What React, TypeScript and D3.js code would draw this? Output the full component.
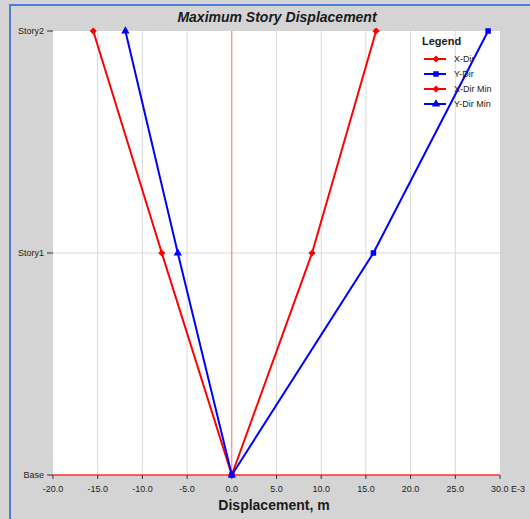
import { useRef, useEffect } from "react";
import { select, scaleLinear, scalePoint, line, symbol, symbolSquare, symbolTriangle, range } from "d3";

const W = 530;
const H = 519;
const plot = { left: 53, right: 500, top: 31, bottom: 475 };

const stories = ["Base", "Story1", "Story2"];
const xDir = [0, 8.98, 16.14];
const yDir = [0, 15.84, 28.67];
const xDirMin = [0, -7.83, -15.5];
const yDirMin = [0, -6.04, -11.9];
const xTicks = range(-20, 30.1, 5);

// diamond = square turned 45deg
const series = [
  { name: "X-Dir", values: xDir, color: "#ff0000", shape: symbolSquare, size: 26, rot: 45 },
  { name: "Y-Dir", values: yDir, color: "#0000ff", shape: symbolSquare, size: 30, rot: 0 },
  { name: "X-Dir Min", values: xDirMin, color: "#ff0000", shape: symbolSquare, size: 26, rot: 45 },
  { name: "Y-Dir Min", values: yDirMin, color: "#0000ff", shape: symbolTriangle, size: 30, rot: 0 },
];

const FONT = "'Liberation Sans', Arial, sans-serif";

export default function App() {
  const svgRef = useRef<SVGSVGElement>(null);

  useEffect(() => {
    const svg = select(svgRef.current);
    svg.selectAll("*").remove();

    const x = scaleLinear().domain([-20, 30]).range([plot.left, plot.right]);
    const y = scalePoint().domain(stories).range([plot.bottom, plot.top]);

    // background panel
    svg.append("rect").attr("width", W).attr("height", H).attr("fill", "#d4d4d4");
    svg.append("rect").attr("x", 9).attr("y", 4).attr("width", W).attr("height", 2).attr("fill", "#4a7ed6");
    svg.append("rect").attr("x", 9).attr("y", 4).attr("width", 2).attr("height", H).attr("fill", "#4a7ed6");

    // plot area
    svg.append("rect")
      .attr("x", plot.left).attr("y", plot.top)
      .attr("width", plot.right - plot.left).attr("height", plot.bottom - plot.top)
      .attr("fill", "#ffffff");

    // title
    svg.append("text")
      .attr("x", 277).attr("y", 22)
      .attr("text-anchor", "middle")
      .style("font", `italic bold 14px ${FONT}`)
      .attr("fill", "#1a1a1a")
      .text("Maximum Story Displacement");

    // grid
    svg.append("g").selectAll("line")
      .data(xTicks.filter(t => t !== 0 && t !== -20 && t !== 30))
      .join("line")
      .attr("x1", d => x(d)).attr("x2", d => x(d))
      .attr("y1", plot.top).attr("y2", plot.bottom)
      .attr("stroke", "#d9d9d9").attr("stroke-width", 1);
    svg.append("line")
      .attr("x1", plot.left).attr("x2", plot.right)
      .attr("y1", y("Story1")!).attr("y2", y("Story1")!)
      .attr("stroke", "#d9d9d9").attr("stroke-width", 1);

    // zero line and base line
    svg.append("line")
      .attr("x1", x(0)).attr("x2", x(0))
      .attr("y1", plot.top).attr("y2", plot.bottom)
      .attr("stroke", "#ff6b6b").attr("stroke-width", 1);
    svg.append("line")
      .attr("x1", plot.left).attr("x2", plot.right)
      .attr("y1", y("Base")!).attr("y2", y("Base")!)
      .attr("stroke", "#ff3030").attr("stroke-width", 1.5);

    // x ticks
    const xa = svg.append("g");
    xa.selectAll("line")
      .data(xTicks)
      .join("line")
      .attr("x1", d => x(d)).attr("x2", d => x(d))
      .attr("y1", plot.bottom).attr("y2", plot.bottom + 4)
      .attr("stroke", "#333");
    xa.selectAll("text")
      .data(xTicks)
      .join("text")
      .attr("x", d => (d === 30 ? x(d) - 9 : x(d)))
      .attr("y", 492)
      .attr("text-anchor", d => (d === 30 ? "start" : "middle"))
      .style("font", `9px ${FONT}`)
      .attr("fill", "#222")
      .text(d => (d === 30 ? "30.0 E-3" : d.toFixed(1)));

    svg.append("text")
      .attr("x", 274).attr("y", 510)
      .attr("text-anchor", "middle")
      .style("font", `bold 14px ${FONT}`)
      .attr("fill", "#1a1a1a")
      .text("Displacement, m");

    // y ticks
    const ya = svg.append("g");
    ya.selectAll("line")
      .data(stories)
      .join("line")
      .attr("x1", plot.left - 6).attr("x2", plot.left)
      .attr("y1", d => y(d)!).attr("y2", d => y(d)!)
      .attr("stroke", "#333");
    ya.selectAll("text")
      .data(stories)
      .join("text")
      .attr("x", plot.left - 9)
      .attr("y", d => y(d)! + 3)
      .attr("text-anchor", "end")
      .style("font", `9px ${FONT}`)
      .attr("fill", "#222")
      .text(d => d);

    // series
    const path = line<number>().x(d => x(d)).y((_, i) => y(stories[i])!);
    const g = svg.append("g");
    series.forEach(s => {
      g.append("path")
        .attr("d", path(s.values))
        .attr("fill", "none")
        .attr("stroke", s.color)
        .attr("stroke-width", 2);
      g.selectAll(null)
        .data(s.values)
        .join("path")
        .attr("transform", (d, i) => `translate(${x(d)},${y(stories[i])}) rotate(${s.rot})`)
        .attr("d", symbol().type(s.shape).size(s.size)())
        .attr("fill", s.color);
    });

    // legend
    const lg = svg.append("g");
    lg.append("text")
      .attr("x", 422).attr("y", 45)
      .style("font", `bold 11px ${FONT}`)
      .attr("fill", "#1a1a1a")
      .text("Legend");
    series.forEach((s, i) => {
      const ly = 59 + i * 15;
      lg.append("line")
        .attr("x1", 424).attr("x2", 446)
        .attr("y1", ly).attr("y2", ly)
        .attr("stroke", s.color).attr("stroke-width", 2);
      lg.append("path")
        .attr("transform", `translate(436,${ly}) rotate(${s.rot})`)
        .attr("d", symbol().type(s.shape).size(s.size)())
        .attr("fill", s.color);
      lg.append("text")
        .attr("x", 454).attr("y", ly + 3)
        .style("font", `9px ${FONT}`)
        .attr("fill", "#222")
        .text(s.name);
    });
  }, []);

  return (
    <svg
      ref={svgRef}
      width={W}
      height={H}
      style={{ position: "absolute", left: 0, top: 0, display: "block" }}
    />
  );
}
